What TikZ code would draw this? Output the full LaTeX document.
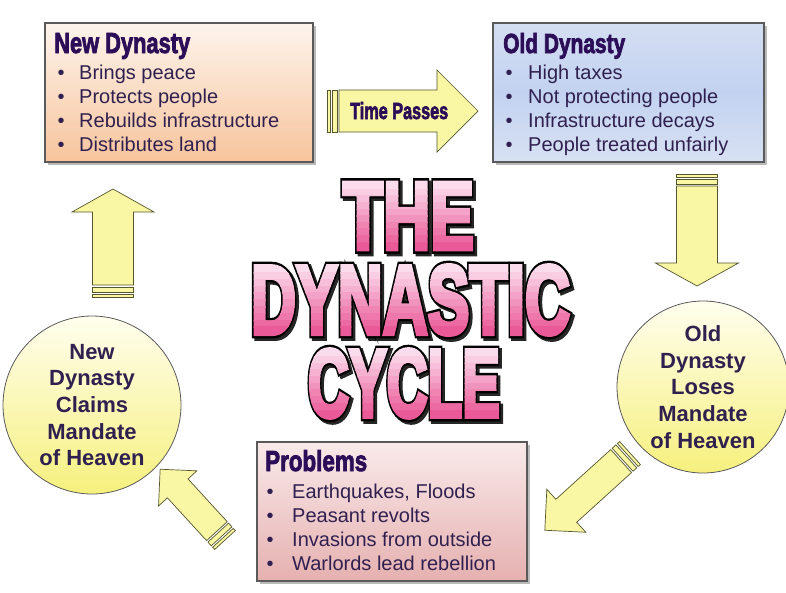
\documentclass[tikz,border=0pt]{standalone}
\usepackage{fontspec}
\setmainfont{Liberation Sans}
\newfontfamily\ttlfillfont{Liberation Sans}[BoldFeatures={FakeBold=5}]
\newfontfamily\ttllinefont{Liberation Sans}[BoldFeatures={FakeBold=10}]
\newfontfamily\headfont{Liberation Sans}[BoldFeatures={FakeBold=3}]
\usetikzlibrary{shadows}
\definecolor{txtc}{HTML}{30204F}
\definecolor{headc}{HTML}{2C0E58}
\definecolor{ayel}{HTML}{F9F6A4}
\definecolor{aline}{HTML}{56562E}
\definecolor{bline}{HTML}{5A5A5A}
\definecolor{pinkT}{HTML}{FBDCEC}
\definecolor{pinkB}{HTML}{EA5A98}
\definecolor{peachT}{HTML}{FDF4EC}
\definecolor{peachB}{HTML}{F7C49C}
\definecolor{blueT}{HTML}{D4DEF2}
\definecolor{blueM}{HTML}{C2D2F0}
\definecolor{blueB}{HTML}{D8E1F3}
\definecolor{roseT}{HTML}{F9EAEA}
\definecolor{roseB}{HTML}{E6B0B0}
\definecolor{circT}{HTML}{FFFEEE}
\definecolor{circB}{HTML}{F6F07E}

\tikzset{
 arrowpart/.style={draw=aline, fill=ayel, line width=0.7pt, line join=miter},
 infobox/.style={draw=bline, line width=1.1pt, inner sep=0pt,
   drop shadow={shadow xshift=2.5pt, shadow yshift=-2.5pt, opacity=0.45, fill=black!60}},
 boxhead/.style={anchor=base west, inner sep=0pt, text=headc},
 bulletcol/.style={anchor=base, inner sep=0pt, text=txtc, font=\fontsize{20}{24}\selectfont},
 textcol/.style={anchor=base west, inner sep=0pt, text=txtc, font=\fontsize{20}{24}\selectfont},
 mandate/.style={circle, draw=bline, line width=0.8pt, inner sep=0pt, top color=circT,
   bottom color=circB, text=txtc, align=center, font=\bfseries\fontsize{22}{26.7}\selectfont},
 ttlpart/.style={inner sep=0pt},
}

% #1 name, #2 tail pos, #3 angle, #4 body end, #5 tip, #6 body half, #7 head half
\newcommand{\blockarrow}[7]{%
 \coordinate (#1) at #2;
 \begin{scope}[shift={(#1)}, rotate=#3]
  \draw[arrowpart] (0,-#6) rectangle (3,#6);
  \draw[arrowpart] (5,-#6) rectangle (10,#6);
  \draw[arrowpart] (12,-#6) -- (#4,-#6) -- (#4,-#7) -- (#5,0) -- (#4,#7) -- (#4,#6) -- (12,#6) -- cycle;
 \end{scope}}

% #1 name, #2 centre, #3 width, #4 height, #5 word
\newcommand{\ttlword}[5]{%
 \coordinate (#1) at #2;
 \begin{scope}[shift={(#1)}]
  \node[ttlpart, text=black!85, name=#1-shadow] at (2.5,2.5) {\resizebox{#3pt}{#4pt}{\ttllinefont\bfseries #5}};
  \node[ttlpart, text=black, name=#1-line] at (0,0) {\resizebox{#3pt}{#4pt}{\ttllinefont\bfseries #5}};
  \foreach \i in {0,...,9}{
    \pgfmathsetmacro{\ya}{\i==0 ? -#4 : -#4/2+\i*#4/10-0.3}
    \pgfmathsetmacro{\yb}{\i==9 ? #4 : -#4/2+(\i+1)*#4/10+0.3}
    \pgfmathsetmacro{\p}{\i*100/9}
    \begin{scope}
      \clip (-#3,\ya) rectangle (#3,\yb);
      \node[ttlpart, text=pinkB!\p!pinkT, name=#1-g\i] at (0,0) {\resizebox{#3pt}{#4pt}{\ttlfillfont\bfseries #5}};
    \end{scope}}
 \end{scope}}

\begin{document}
\begin{tikzpicture}[x=1pt, y=-1pt]
\useasboundingbox (0,0) rectangle (786,592);
\fill[white] (0,0) rectangle (786,592);

% boxes
\node[infobox, minimum width=268pt, minimum height=139pt, top color=peachT, bottom color=peachB] (newbox) at (179,92.5) {};
\node[infobox, minimum width=271pt, minimum height=139pt, top color=blueT, bottom color=blueB, middle color=blueM] (oldbox) at (628.5,92.5) {};
\node[infobox, minimum width=270pt, minimum height=139pt, top color=roseT, bottom color=roseB] (probbox) at (392,511.5) {};

% arrows
\blockarrow{apass}{(327,111)}{0}{110}{151}{21}{41}
\blockarrow{adown}{(697,174)}{-90}{89}{112}{20.5}{41.5}
\blockarrow{aup}{(113,297)}{90}{85}{108}{20.5}{41}
\blockarrow{adiagR}{(630,453)}{-137.8}{86}{115}{15.5}{29}
\blockarrow{adiagL}{(225,540)}{132.5}{70}{96}{14}{26}

% circles
\node[mandate, minimum size=178pt] (newmandate) at (92,405) {New\\Dynasty\\Claims\\Mandate\\of Heaven};
\node[mandate, minimum size=172pt] (lostmandate) at (703,387) {Old\\Dynasty\\Loses\\Mandate\\of Heaven};

% title
\ttlword{tthe}{(408.5,216)}{131}{66}{THE}
\ttlword{tdyn}{(410.5,300)}{319}{68}{DYNASTIC}
\ttlword{tcyc}{(404,383.5)}{192}{67}{CYCLE}

% headings
\node[boxhead] (newhead) at (54,53) {\resizebox{136pt}{20pt}{\headfont\bfseries New Dynasty}};
\node[boxhead] (oldhead) at (503,53) {\resizebox{122pt}{20pt}{\headfont\bfseries Old Dynasty}};
\node[boxhead] (probhead) at (265,471) {\resizebox{102pt}{21pt}{\headfont\bfseries Problems}};
\node[boxhead] (passlabel) at (350,119) {\resizebox{98pt}{17pt}{\headfont\bfseries Time Passes}};

% lists
\node[bulletcol] (newbul) at (61,79) {\begin{tabular}[t]{@{}c@{}}•\\•\\•\\•\end{tabular}};
\node[textcol] (newlist) at (79,79) {\begin{tabular}[t]{@{}l@{}}Brings peace\\Protects people\\Rebuilds infrastructure\\Distributes land\end{tabular}};
\node[bulletcol] (oldbul) at (509,79) {\begin{tabular}[t]{@{}c@{}}•\\•\\•\\•\end{tabular}};
\node[textcol] (oldlist) at (528,79) {\begin{tabular}[t]{@{}l@{}}High taxes\\Not protecting people\\Infrastructure decays\\People treated unfairly\end{tabular}};
\node[bulletcol] (probbul) at (270,498) {\begin{tabular}[t]{@{}c@{}}•\\•\\•\\•\end{tabular}};
\node[textcol] (problist) at (292,498) {\begin{tabular}[t]{@{}l@{}}Earthquakes, Floods\\Peasant revolts\\Invasions from outside\\Warlords lead rebellion\end{tabular}};
\end{tikzpicture}
\end{document}
